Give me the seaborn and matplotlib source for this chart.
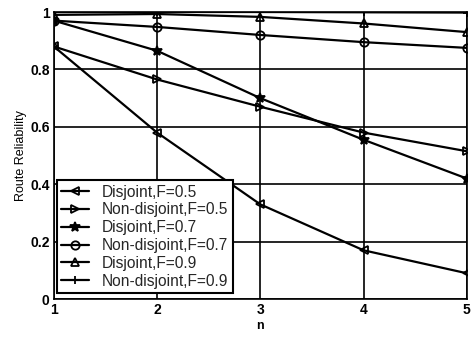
import matplotlib
matplotlib.use("Agg")
import matplotlib.pyplot as plt
import seaborn as sns
import pandas as pd

sns.set_theme(style="white")
plt.rcParams['font.family'] = ['Liberation Sans', 'DejaVu Sans']

n = [1, 2, 3, 4, 5]
disjoint_05 = [0.88, 0.58, 0.33, 0.17, 0.09]
nondisjoint_05 = [0.88, 0.765, 0.67, 0.58, 0.515]
disjoint_07 = [0.97, 0.865, 0.70, 0.555, 0.42]
nondisjoint_07 = [0.97, 0.948, 0.92, 0.895, 0.875]
disjoint_09 = [0.99, 0.993, 0.983, 0.96, 0.93]
nondisjoint_09 = [1.0, 1.0, 1.0, 0.999, 0.998]

labels = ["Disjoint,F=0.5", "Non-disjoint,F=0.5", "Disjoint,F=0.7",
          "Non-disjoint,F=0.7", "Disjoint,F=0.9", "Non-disjoint,F=0.9"]
series = [disjoint_05, nondisjoint_05, disjoint_07, nondisjoint_07, disjoint_09, nondisjoint_09]
markers = ["<", ">", "*", "o", "^", "+"]

rows = []
for lab, vals in zip(labels, series):
    for x, y in zip(n, vals):
        rows.append({"n": x, "R": y, "series": lab})
df = pd.DataFrame(rows)

fig = plt.figure(figsize=(4.72, 3.43), dpi=100)
ax = fig.add_axes([0.114, 0.128, 0.875, 0.837])

for lab, m in zip(labels, markers):
    sub = df[df["series"] == lab]
    sns.lineplot(data=sub, x="n", y="R", ax=ax, color="black", lw=1.6,
                 marker=m, markersize=7 if m == "*" else 6,
                 markerfacecolor="black" if m in ("+", "*") else "none",
                 markeredgecolor="black", markeredgewidth=1.3, label=lab)

ax.set_xlim(1, 5)
ax.set_ylim(0, 1)
ax.set_xticks(n)
ax.set_yticks([0, 0.2, 0.4, 0.6, 0.8, 1])
ax.set_yticklabels(["0", "0.2", "0.4", "0.6", "0.8", "1"])
ax.grid(True, color="black", lw=1.2)
for s in ax.spines.values():
    s.set_color("black")
    s.set_linewidth(1.2)
ax.tick_params(axis="both", labelsize=10, colors="black", length=3, direction="in", pad=3)
for t in ax.get_xticklabels() + ax.get_yticklabels():
    t.set_fontweight("bold")
ax.set_xlabel("n", fontsize=9, fontweight="bold", color="black", labelpad=2)
ax.set_ylabel("Route Reliability", fontsize=9, color="black", labelpad=2)

leg = ax.legend(loc="lower left", bbox_to_anchor=(0.007, 0.02), fontsize=11.2, frameon=True,
                fancybox=False, edgecolor="black", framealpha=1, borderpad=0.3,
                labelspacing=0.18, handlelength=1.8, handletextpad=0.8, borderaxespad=0)
leg.get_frame().set_linewidth(1.5)

fig.savefig("out.png", dpi=100)
